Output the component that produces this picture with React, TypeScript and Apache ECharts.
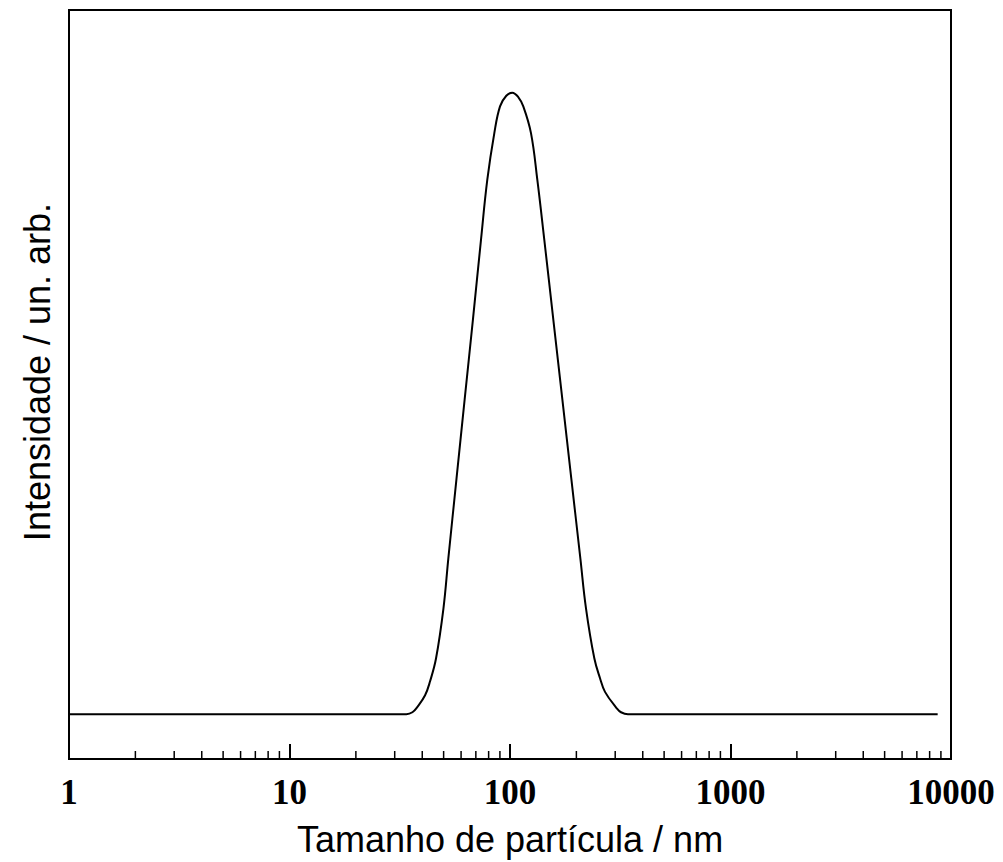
import React, { useEffect, useRef } from "react";
import * as echarts from "echarts";

// Particle size (nm) and intensity (arb. units)
const sizes = [1, 33.9, 36.1, 37.9, 41.2, 43.4, 46.2, 49.9, 52.5, 57.2, 62.3, 67.9, 73.9, 78.9, 84.9, 90.1, 96.2, 102.4, 109.0, 114.9, 124.5, 133.0, 143.0, 157.2, 172.7, 189.7, 208.6, 221.2, 241.2, 256, 269.7, 304.8, 318.7, 342.8, 8700];
const intensity = [0, 0, 0.32, 1.12, 3.05, 5.3, 9.0, 17.0, 25.0, 37.9, 50.7, 63.5, 76.4, 86.0, 93.5, 97.8, 99.5, 100, 99.3, 97.8, 93.5, 86.0, 76.4, 63.5, 50.7, 37.9, 25.0, 17.0, 9.0, 5.8, 3.6, 0.96, 0.32, 0, 0];

const minorTicks = [2, 3, 4, 5, 6, 7, 8, 9, 20, 30, 40, 50, 60, 70, 80, 90, 200, 300, 400, 500, 600, 700, 800, 900, 2000, 3000, 4000, 5000, 6000, 7000, 8000, 9000];

const xTitle = "Tamanho de partícula / nm";
const yTitle = "Intensidade / un. arb.";

const Y_MIN = -7.2;
const Y_MAX = 113.3;

export default function App() {
  const ref = useRef<HTMLDivElement>(null);
  useEffect(() => {
    if (!ref.current) return;
    const chart = echarts.init(ref.current, null, { renderer: "svg" });
    chart.setOption({
      animation: false,
      backgroundColor: "#fff",
      grid: {
        left: 69,
        right: 52,
        top: 10,
        bottom: 101,
        show: true,
        borderColor: "#000",
        borderWidth: 2,
        backgroundColor: "transparent",
      },
      xAxis: {
        type: "log",
        logBase: 10,
        min: 1,
        max: 10000,
        axisLine: { show: true, onZero: false, lineStyle: { color: "#000", width: 2 } },
        axisTick: { show: true, inside: true, length: 15, lineStyle: { color: "#000", width: 2 } },
        splitLine: { show: false },
        axisLabel: {
          color: "#000",
          fontFamily: "Liberation Serif",
          fontWeight: "bold",
          fontSize: 35,
          margin: 16,
          showMinLabel: true,
          showMaxLabel: true,
          formatter: (v: number) => String(Math.round(v)),
        },
        name: xTitle,
        nameLocation: "middle",
        nameGap: 62,
        nameTextStyle: { color: "#000", fontFamily: "Liberation Sans", fontSize: 36 },
      },
      yAxis: {
        type: "value",
        min: Y_MIN,
        max: Y_MAX,
        axisLine: { show: true, onZero: false, lineStyle: { color: "#000", width: 2 } },
        axisTick: { show: false },
        axisLabel: { show: false },
        splitLine: { show: false },
      },
      graphic: [
        {
          type: "text",
          x: 37,
          y: 372,
          rotation: Math.PI / 2,
          style: {
            text: yTitle,
            fill: "#000",
            fontFamily: "Liberation Sans",
            fontSize: 36,
            textAlign: "center",
            textVerticalAlign: "middle",
          },
        },
      ],
      series: [
        {
          type: "line",
          data: sizes.map((s, i) => [s, intensity[i]]),
          showSymbol: false,
          smooth: 0.4,
          lineStyle: { color: "#000", width: 2 },
          z: 3,
        },
        {
          type: "custom",
          data: minorTicks.map((v) => [v, Y_MIN]),
          encode: { x: 0, y: 1 },
          renderItem: (params: any, api: any) => {
            const p = api.coord([api.value(0), Y_MIN]);
            return {
              type: "line",
              shape: { x1: p[0], y1: p[1], x2: p[0], y2: p[1] - 8 },
              style: { stroke: "#000", lineWidth: 1.5 },
            };
          },
          z: 4,
        },
      ],
    });
    return () => chart.dispose();
  }, []);
  return (
    <div
      ref={ref}
      style={{ position: "fixed", left: 0, top: 0, width: 1003, height: 862, background: "#fff" }}
    />
  );
}
